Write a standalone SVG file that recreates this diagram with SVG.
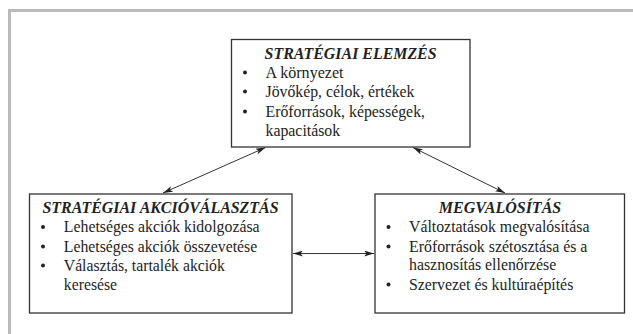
<svg xmlns="http://www.w3.org/2000/svg" width="633" height="334" viewBox="0 0 633 334">
<style>
.box{fill:#fff;stroke:#333;stroke-width:1.3}
.t{font-family:"Liberation Serif","Times New Roman",serif;font-size:17px;fill:#222}
.h{font-size:16px;font-weight:bold;font-style:italic;text-anchor:middle}
.dot{fill:#222}
.c{stroke:#333;stroke-width:1;fill:none;marker-start:url(#ah);marker-end:url(#ah)}
</style>
<defs>
<marker id="ah" viewBox="0 0 10 6" refX="10" refY="3" markerWidth="10" markerHeight="6" markerUnits="userSpaceOnUse" orient="auto-start-reverse">
<path d="M0,0 L10,3 L0,6 L2.5,3 Z" fill="#222"/>
</marker>
</defs>
<rect width="633" height="334" fill="#fff"/>
<path d="M9.5,334 V10.5 H633" fill="none" stroke="#bbb" stroke-width="3"/>
<g id="connectors">
<line class="c" x1="265.5" y1="147.5" x2="163" y2="193"/>
<line class="c" x1="413" y1="147.5" x2="505" y2="193"/>
<line class="c" x1="293" y1="253.5" x2="374" y2="253.5"/>
</g>
<g id="strategiai-elemzes">
<rect class="box" x="231.5" y="39.5" width="238.5" height="107.5"/>
<text class="t h" x="350.6" y="58.5" textLength="172" lengthAdjust="spacingAndGlyphs">STRATÉGIAI ELEMZÉS</text>
<circle class="dot" cx="245" cy="72.5" r="2"/>
<text class="t" x="265.5" y="77.5" textLength="78" lengthAdjust="spacingAndGlyphs">A környezet</text>
<circle class="dot" cx="245" cy="91.5" r="2"/>
<text class="t" x="265.5" y="96.5" textLength="149" lengthAdjust="spacingAndGlyphs">Jövőkép, célok, értékek</text>
<circle class="dot" cx="245" cy="111.5" r="2"/>
<text class="t" x="265.5" y="116.5" textLength="159.5" lengthAdjust="spacingAndGlyphs">Erőforrások, képességek,</text>
<text class="t" x="265.5" y="135.5" textLength="74.7" lengthAdjust="spacingAndGlyphs">kapacitások</text>
</g>
<g id="strategiai-akciovalasztas">
<rect class="box" x="29.5" y="194" width="262.5" height="119"/>
<text class="t h" x="160.5" y="213" textLength="236" lengthAdjust="spacingAndGlyphs">STRATÉGIAI AKCIÓVÁLASZTÁS</text>
<circle class="dot" cx="43" cy="227" r="2"/>
<text class="t" x="63.8" y="232" textLength="195.8" lengthAdjust="spacingAndGlyphs">Lehetséges akciók kidolgozása</text>
<circle class="dot" cx="43" cy="246.5" r="2"/>
<text class="t" x="63.8" y="251.5" textLength="193.4" lengthAdjust="spacingAndGlyphs">Lehetséges akciók összevetése</text>
<circle class="dot" cx="43" cy="265.5" r="2"/>
<text class="t" x="63.8" y="270.5" textLength="161" lengthAdjust="spacingAndGlyphs">Választás, tartalék akciók</text>
<text class="t" x="63.8" y="289.5" textLength="53.3" lengthAdjust="spacingAndGlyphs">keresése</text>
</g>
<g id="megvalositas">
<rect class="box" x="375" y="194" width="249.5" height="119"/>
<text class="t h" x="500" y="213" textLength="122.4" lengthAdjust="spacingAndGlyphs">MEGVALÓSÍTÁS</text>
<circle class="dot" cx="388.5" cy="227" r="2"/>
<text class="t" x="409" y="232" textLength="180.4" lengthAdjust="spacingAndGlyphs">Változtatások megvalósítása</text>
<circle class="dot" cx="388.5" cy="246.5" r="2"/>
<text class="t" x="409" y="251.5" textLength="178.4" lengthAdjust="spacingAndGlyphs">Erőforrások szétosztása és a</text>
<text class="t" x="409" y="270" textLength="147.3" lengthAdjust="spacingAndGlyphs">hasznosítás ellenőrzése</text>
<circle class="dot" cx="388.5" cy="284.5" r="2"/>
<text class="t" x="409" y="289.5" textLength="164.3" lengthAdjust="spacingAndGlyphs">Szervezet és kultúraépítés</text>
</g>
</svg>
